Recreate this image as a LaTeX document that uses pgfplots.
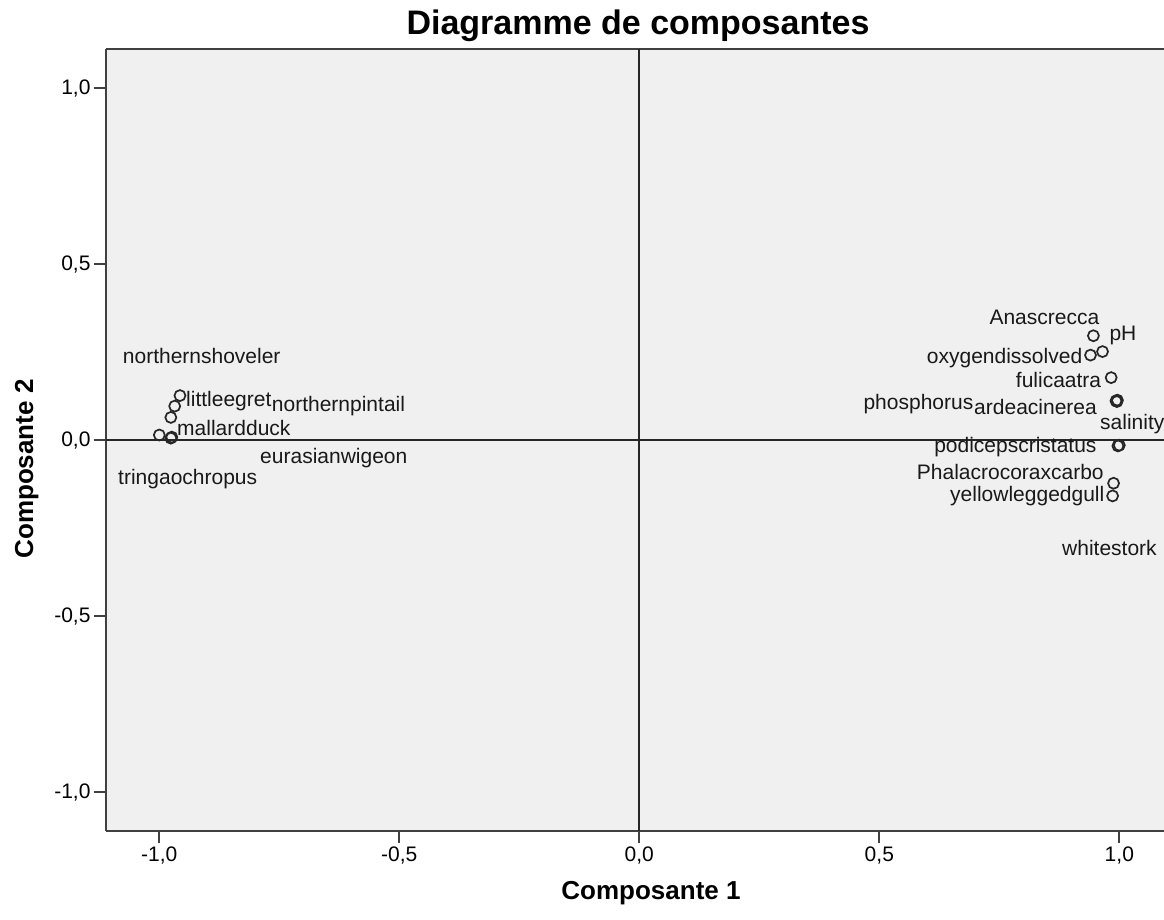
\documentclass[border=0pt]{standalone}
\usepackage{pgfplots}
\pgfplotsset{compat=1.18}
\usepackage{fontspec}
\setmainfont{Liberation Sans}
\definecolor{bgc}{HTML}{F0F0F0}
\definecolor{axc}{HTML}{404040}
\begin{document}
\begin{tikzpicture}[x=1pt,y=1pt]
\useasboundingbox (0,0) rectangle (1164,920);
\begin{axis}[
  at={(106pt,89pt)}, anchor=south west,
  scale only axis, width=1058pt, height=782pt,
  xmin=-1.1111, xmax=1.0931, ymin=-1.1099, ymax=1.1116,
  axis x line=box, axis y line=left,
  axis line style={-, line width=2pt, draw=axc},
  y axis line style={-},
  axis background/.style={fill=bgc},
  xtick={-1,-0.5,0,0.5,1}, xticklabels={{-1,0},{-0,5},{0,0},{0,5},{1,0}},
  ytick={-1,-0.5,0,0.5,1}, yticklabels={{-1,0},{-0,5},{0,0},{0,5},{1,0}},
  tick align=outside, xtick pos=bottom, ytick pos=left,
  major tick length=12pt,
  tick style={line width=2pt, draw=axc},
  ticklabel style={font=\fontsize{21}{25}\selectfont},
  clip=false,
]
\draw[line width=2.2pt, black!85] (axis cs:0,-1.1099) -- (axis cs:0,1.1116);
\draw[line width=2.2pt, black!85] (axis cs:-1.1111,0) -- (axis cs:1.0931,0);
\addplot[only marks, mark=o, mark size=5.5pt, mark options={line width=1.7pt, draw=black!85}] coordinates {
(-0.957,0.127) (-0.968,0.097) (-0.976,0.065) (-1.000,0.015) (-0.976,0.006) (-0.974,0.009)
(0.946,0.297) (0.965,0.252) (0.940,0.242) (0.983,0.178) (0.993,0.112) (0.996,0.114) (0.995,0.110)
(0.997,-0.016) (1.000,-0.014) (0.988,-0.122) (0.986,-0.158)
};
\begin{scope}[every node/.style={anchor=base west, inner sep=0pt, font=\fontsize{21}{25}\selectfont, text=black!90}]
\node at (axis cs:-1.0763,0.2188) {northernshoveler};
\node at (axis cs:-0.9444,0.0955) {littleegret};
\node at (axis cs:-0.7658,0.0813) {northernpintail};
\node at (axis cs:-0.9631,0.0122) {mallardduck};
\node at (axis cs:-0.7902,-0.0653) {eurasianwigeon};
\node at (axis cs:-1.0860,-0.1270) {tringaochropus};
\node at (axis cs:0.7292,0.3276) {Anascrecca};
\node at (axis cs:0.9792,0.2849) {pH};
\node at (axis cs:0.5988,0.2188) {oxygendissolved};
\node at (axis cs:0.7842,0.1506) {fulicaatra};
\node at (axis cs:0.4667,0.0861) {phosphorus};
\node at (axis cs:0.6973,0.0719) {ardeacinerea};
\node at (axis cs:0.9598,0.0313) {salinity};
\node at (axis cs:0.6140,-0.0352) {podicepscristatus};
\node at (axis cs:0.5779,-0.1128) {Phalacrocoraxcarbo};
\node at (axis cs:0.6473,-0.1744) {yellowleggedgull};
\node at (axis cs:0.8806,-0.3259) {whitestork};
\end{scope}
\end{axis}
\node[anchor=base, inner sep=0pt, font=\bfseries\fontsize{34}{38}\selectfont] at (638,885) {Diagramme de composantes};
\node[anchor=base, inner sep=0pt, font=\bfseries\fontsize{26}{30}\selectfont] at (651,20) {Composante 1};
\node[anchor=base, rotate=90, inner sep=0pt, font=\bfseries\fontsize{26}{30}\selectfont] at (33,451) {Composante 2};
\end{tikzpicture}
\end{document}
